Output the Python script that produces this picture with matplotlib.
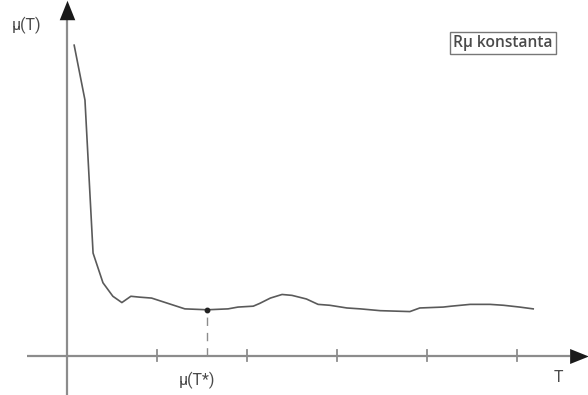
import numpy as np
import matplotlib
matplotlib.use("Agg")
import matplotlib.pyplot as plt

# curve (T in tick units, mu in arbitrary units)
T_vals = [0.08, 0.20, 0.29, 0.40, 0.51, 0.61, 0.71, 0.81, 0.94, 1.31,
          1.56, 1.79, 1.90, 2.07, 2.14, 2.26, 2.39, 2.50, 2.66, 2.79, 2.92,
          3.11, 3.26, 3.48, 3.81, 3.92, 4.18, 4.27, 4.48, 4.70, 4.85, 5.03, 5.18]
mu_vals = [3.45, 2.84, 1.14, 0.81, 0.66, 0.59, 0.66, 0.65, 0.64, 0.52,
           0.51, 0.52, 0.54, 0.55, 0.58, 0.64, 0.68, 0.67, 0.63, 0.57, 0.56,
           0.53, 0.52, 0.50, 0.49, 0.53, 0.54, 0.55, 0.57, 0.57, 0.56, 0.54, 0.52]

tick_T = [1, 2, 3, 4, 5]
T_star = 1.56
mu_star = 0.51

AXIS = "#8c8c8c"
LINE = "#5a5a5a"
TEXT = "#4a4a4a"

plt.rcParams["font.family"] = ["Roboto", "DejaVu Sans"]

fig = plt.figure(figsize=(5.88, 3.95), dpi=100)
ax = fig.add_axes([0, 0, 1, 1])
ax.set_xlim(-0.744, 5.789)
ax.set_ylim(-0.437, 3.952)
ax.axis("off")

# axes with arrow heads
ax.plot([-0.444, 5.59], [0, 0], color=AXIS, lw=1.6, solid_capstyle="butt")
ax.plot([0, 0], [-0.437, 3.74], color=AXIS, lw=1.6, solid_capstyle="butt")
head_r = [(-1, -0.8), (1, 0), (-1, 0.8)]
head_u = [(-0.8, -1), (0, 1), (0.8, -1)]
ax.plot([5.69], [0], marker=head_r, ms=13.5, color="#1a1a1a", mew=0)
ax.plot([0], [3.84], marker=head_u, ms=14, color="#1a1a1a", mew=0)

# ticks
for t in tick_T:
    ax.plot([t, t], [-0.06, 0.06], color=AXIS, lw=1.3)

# curve
ax.plot(T_vals, mu_vals, color=LINE, lw=1.2)
ax.plot([T_star, T_star], [0, mu_star], color=AXIS, lw=1, ls=(0, (6, 5)))
ax.plot([T_star], [mu_star], "o", color="#222222", ms=3.2)

# labels
ax.text(-0.444, 3.674, "\u03bc(T)", fontsize=11.5, color=TEXT,
        ha="center", va="center")
ax.text(1.441, -0.273, "\u03bc(T*)", fontsize=11.5, color=TEXT,
        ha="center", va="center")
ax.text(5.456, -0.248, "T", fontsize=11.5, color=TEXT,
        ha="center", va="center")
ax.text(4.842, 3.474, "R\u03bc konstanta", fontsize=11.2, color=TEXT,
        family=["Open Sans", "DejaVu Sans"], fontweight="semibold",
        ha="center", va="center",
        bbox=dict(boxstyle="square,pad=0.22", fc="white", ec="#777777", lw=1))

fig.savefig("out.png", dpi=100)
